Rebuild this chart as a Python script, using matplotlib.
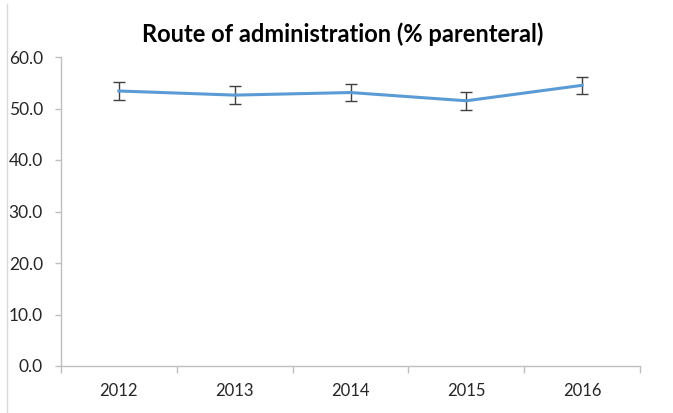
import matplotlib.pyplot as plt
from matplotlib.lines import Line2D

years = ['2012', '2013', '2014', '2015', '2016']
pct_parenteral = [53.4, 52.6, 53.1, 51.5, 54.5]
err = [1.7, 1.7, 1.7, 1.8, 1.7]
y_ticks = [0, 10, 20, 30, 40, 50, 60]

plt.rcParams['font.family'] = ['Lato', 'DejaVu Sans']

fig = plt.figure(figsize=(6.73, 4.13), dpi=100)
ax = fig.add_axes([61 / 673, 47 / 413, 579 / 673, 309 / 413])

x = list(range(len(years)))
ax.errorbar(x, pct_parenteral, yerr=err, color='#5b9bd5', linewidth=2.2,
            ecolor='#404040', elinewidth=1, capsize=4, capthick=1)

ax.set_xlim(-0.5, len(years) - 0.5)
ax.set_ylim(0, 60)
ax.set_yticks(y_ticks)
ax.set_yticklabels([f'{v:.1f}' for v in y_ticks], fontsize=12.5, color='#262626')
ax.set_xticks(x)
ax.set_xticklabels(years, fontsize=12, color='#262626')
ax.set_xticks([i - 0.5 for i in range(len(years) + 1)], minor=True)
ax.tick_params(axis='x', which='major', length=0, pad=12)
ax.tick_params(axis='x', which='minor', length=5, color='#bfbfbf', width=1)
ax.tick_params(axis='y', length=4, color='#bfbfbf', width=1, pad=9)

for s in ['top', 'right']:
    ax.spines[s].set_visible(False)
for s in ['left', 'bottom']:
    ax.spines[s].set_color('#bfbfbf')
    ax.spines[s].set_linewidth(1)

fig.text(343 / 673, 1 - 42 / 413, 'Route of administration (% parenteral)',
         ha='center', va='baseline', fontsize=17, fontweight='bold', color='black')

# chart border on the left edge
fig.add_artist(Line2D([6.5 / 673, 6.5 / 673], [0, 1 - 4 / 413],
                      transform=fig.transFigure, color='#d9d9d9', linewidth=1))

fig.savefig('out.png', dpi=100)
